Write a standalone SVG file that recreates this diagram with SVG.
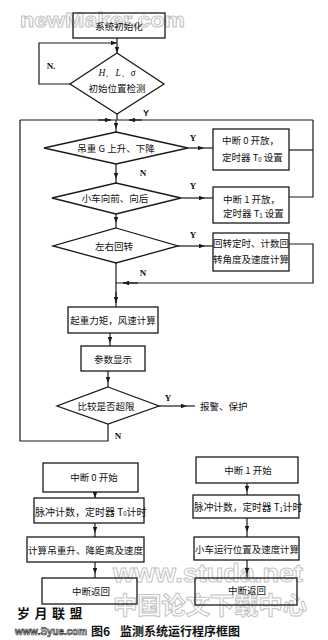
<svg xmlns="http://www.w3.org/2000/svg" width="328" height="640" viewBox="0 0 328 640">
<defs>
<style>
.bg{fill:#fff}
.wm{font-family:"Liberation Sans",Arial,sans-serif;fill:#fff;stroke:#c4c4c4;stroke-width:1;font-weight:bold}
.wmc{font-family:"Noto Sans CJK SC",sans-serif;fill:#fff;stroke:#c4c4c4;stroke-width:1;font-weight:bold}
.box{fill:none;stroke:#1a1a1a;stroke-width:1.3}
.dia{fill:none;stroke:#1a1a1a;stroke-width:1.3}
.ln{fill:none;stroke:#1a1a1a;stroke-width:1.2}
.ar{fill:none;stroke:#1a1a1a;stroke-width:1.2;marker-end:url(#ah)}
.t{font-family:"Noto Sans CJK SC","Noto Sans",sans-serif;font-size:9.5px;fill:#111;text-anchor:middle;dominant-baseline:central}
.ts{font-family:"Noto Sans CJK SC","Noto Sans",sans-serif;font-size:9.5px;fill:#111;dominant-baseline:central}
.lb{font-family:"Liberation Serif",serif;font-weight:bold;font-size:9px;fill:#111;text-anchor:middle;dominant-baseline:central}
.sub{font-size:6px}
</style>
<marker id="ah" viewBox="0 0 8 6" refX="8" refY="3" markerWidth="6" markerHeight="4.5" markerUnits="userSpaceOnUse" orient="auto">
<path d="M0,0 L8,3 L0,6 z" fill="#1a1a1a"/>
</marker>
</defs>
<rect class="bg" x="0" y="0" width="328" height="640"/>
<g id="watermarks">
<text class="wm" x="20" y="27" font-size="20" textLength="165" lengthAdjust="spacingAndGlyphs">newMaker.com</text>
<text class="wm" x="113" y="582" font-size="26" textLength="190" lengthAdjust="spacingAndGlyphs">www.studa.net</text>
<text class="wmc" x="113" y="614" font-size="24" textLength="194" lengthAdjust="spacingAndGlyphs">中国论文下载中心</text>
</g>
<g id="connectors">
<path class="ar" d="M117,38 V53"/>
<path class="ar" d="M70,84 H39 V43 H117"/>
<path class="ln" d="M117,114 V120"/>
<path class="ln" d="M20,120 H313"/>
<path class="ar" d="M98,120 H111"/>
<path class="ar" d="M142,120 H129"/>
<path class="ln" d="M108,424 V441 H20 V120"/>
<path class="ar" d="M116,120 V129"/>
<path class="ln" d="M116,129 V132"/>
<path class="ar" d="M116,164 V179"/>
<path class="ln" d="M116,179 V183"/>
<path class="ar" d="M116,214 V223"/>
<path class="ln" d="M116,223 V228"/>
<path class="ln" d="M116,263 V307"/>
<path class="ar" d="M116,292 V303"/>
<path class="ln" d="M289,244 H313 V283 H116"/>
<path class="ar" d="M138,283 H123"/>
<path class="ar" d="M188,148 H204"/>
<path class="ln" d="M204,148 H213"/>
<path class="ar" d="M181,198 H205"/>
<path class="ln" d="M205,198 H213"/>
<path class="ar" d="M178,246 H205"/>
<path class="ln" d="M205,246 H213"/>
<path class="ln" d="M289,150 H313"/>
<path class="ln" d="M289,197 H313 V120"/>
<path class="ar" d="M110,333 V343"/>
<path class="ln" d="M110,343 V346"/>
<path class="ar" d="M108,371 V383"/>
<path class="ln" d="M108,383 V387"/>
<path class="ar" d="M159,406 H187"/>
<path class="ln" d="M187,406 H195"/>
<path class="ar" d="M95,492 V498"/>
<path class="ar" d="M95,523 V533"/>
<path class="ln" d="M95,533 V537"/>
<path class="ar" d="M95,562 V574"/>
<path class="ln" d="M95,574 V578"/>
<path class="ar" d="M247,483 V492"/>
<path class="ln" d="M247,492 V495"/>
<path class="ar" d="M247,518 V532"/>
<path class="ln" d="M247,532 V537"/>
<path class="ar" d="M247,560 V574"/>
<path class="ln" d="M247,574 V578"/>
</g>
<g id="labels">
<text class="lb" x="51" y="66" font-weight="normal" font-size="8">N.</text>
<text class="lb" x="146" y="113" style="font-family:'Liberation Sans',sans-serif">Y</text>
<text class="lb" x="193" y="138">Y</text>
<text class="lb" x="143" y="173">N</text>
<text class="lb" x="193" y="186">Y</text>
<text class="lb" x="193" y="235">Y</text>
<text class="lb" x="143" y="273">N</text>
<text class="lb" x="168" y="398">Y</text>
<text class="lb" x="118" y="436">N</text>
</g>
<g id="n-init">
<rect class="box" x="73" y="13" width="92" height="25"/>
<text class="t" x="119" y="26">系统初始化</text>
</g>
<g id="n-check">
<polygon class="dia" points="117,53 164,84 117,114 70,84"/>
<text class="t" x="117" y="73" style="font-family:'Liberation Serif',serif;font-style:italic">H、L、σ</text>
<text class="t" x="117" y="88">初始位置检测</text>
</g>
<g id="n-hoist">
<polygon class="dia" points="116,132 188,148 116,164 44,148"/>
<text class="t" x="116" y="148">吊重 G 上升、下降</text>
</g>
<g id="n-int0-open">
<rect class="box" x="213" y="129" width="76" height="41"/>
<text class="ts" x="222" y="140">中断 0 开放，</text>
<text class="ts" x="222" y="157">定时器 T<tspan class="sub" dy="2">0</tspan><tspan dy="-2"> 设置</tspan></text>
</g>
<g id="n-trolley">
<polygon class="dia" points="116,183 181,198 116,214 52,198"/>
<text class="t" x="115" y="198">小车向前、向后</text>
</g>
<g id="n-int1-open">
<rect class="box" x="213" y="187" width="76" height="36"/>
<text class="ts" x="223" y="199">中断 1 开放，</text>
<text class="ts" x="223" y="213">定时器 T<tspan class="sub" dy="2">1</tspan><tspan dy="-2"> 设置</tspan></text>
</g>
<g id="n-slew">
<polygon class="dia" points="116,228 178,246 116,263 53,246"/>
<text class="t" x="114" y="246">左右回转</text>
</g>
<g id="n-slew-calc">
<rect class="box" x="213" y="233" width="76" height="38"/>
<text class="ts" x="213" y="243" textLength="76" lengthAdjust="spacingAndGlyphs">回转定时、计数回</text>
<text class="ts" x="213" y="259" textLength="76" lengthAdjust="spacingAndGlyphs">转角度及速度计算</text>
</g>
<g id="n-moment">
<rect class="box" x="68" y="307" width="90" height="26"/>
<text class="t" x="113" y="320">起重力矩，风速计算</text>
</g>
<g id="n-display">
<rect class="box" x="81" y="346" width="64" height="25"/>
<text class="t" x="113" y="359">参数显示</text>
</g>
<g id="n-compare">
<polygon class="dia" points="108,387 159,406 108,424 57,406"/>
<text class="t" x="106" y="406">比较是否超限</text>
</g>
<g id="n-alarm">
<text class="ts" x="200" y="406">报警、保护</text>
</g>
<g id="n-int0-start">
<rect class="box" x="43" y="463" width="95" height="29"/>
<text class="t" x="94" y="477">中断 0 开始</text>
</g>
<g id="n-int0-count">
<rect class="box" x="34" y="498" width="110" height="25"/>
<text class="ts" x="35" y="511" style="font-size:10px">脉冲计数，定时器 T<tspan class="sub" dy="2">0</tspan><tspan dy="-2">计时</tspan></text>
</g>
<g id="n-int0-calc">
<rect class="box" x="27" y="537" width="117" height="25"/>
<text class="ts" x="28" y="550" textLength="115" lengthAdjust="spacingAndGlyphs">计算吊重升、降距离及速度</text>
</g>
<g id="n-int0-ret">
<rect class="box" x="42" y="578" width="95" height="26"/>
<text class="t" x="91" y="591">中断返回</text>
</g>
<g id="n-int1-start">
<rect class="box" x="196" y="457" width="102" height="26"/>
<text class="t" x="248" y="470">中断 1 开始</text>
</g>
<g id="n-int1-count">
<rect class="box" x="193" y="495" width="106" height="23"/>
<text class="ts" x="194" y="507" style="font-size:9.7px">脉冲计数，定时器 T<tspan class="sub" dy="2">1</tspan><tspan dy="-2">计时</tspan></text>
</g>
<g id="n-int1-calc">
<rect class="box" x="194" y="537" width="105" height="23"/>
<text class="ts" x="195" y="549" textLength="104" lengthAdjust="spacingAndGlyphs">小车运行位置及速度计算</text>
</g>
<g id="n-int1-ret">
<rect class="box" x="195" y="578" width="102" height="27"/>
<text class="t" x="247" y="590">中断返回</text>
</g>
<g id="caption">
<text x="17" y="618" style="font-family:'Noto Sans CJK SC',sans-serif;font-size:13px;font-weight:bold;letter-spacing:4.5px;fill:#111">岁月联盟</text>
<text x="15" y="635" textLength="72" lengthAdjust="spacingAndGlyphs" style="font-family:'Liberation Sans',sans-serif;font-size:11px;font-weight:bold;fill:#fff;stroke:#222;stroke-width:0.7">www.Syue.com</text>
<text y="636" style="font-family:'Noto Sans CJK SC',sans-serif;font-size:12px;font-weight:bold;fill:#111"><tspan x="91">图6</tspan><tspan x="120">监测系统运行程序框图</tspan></text>
</g>
</svg>
